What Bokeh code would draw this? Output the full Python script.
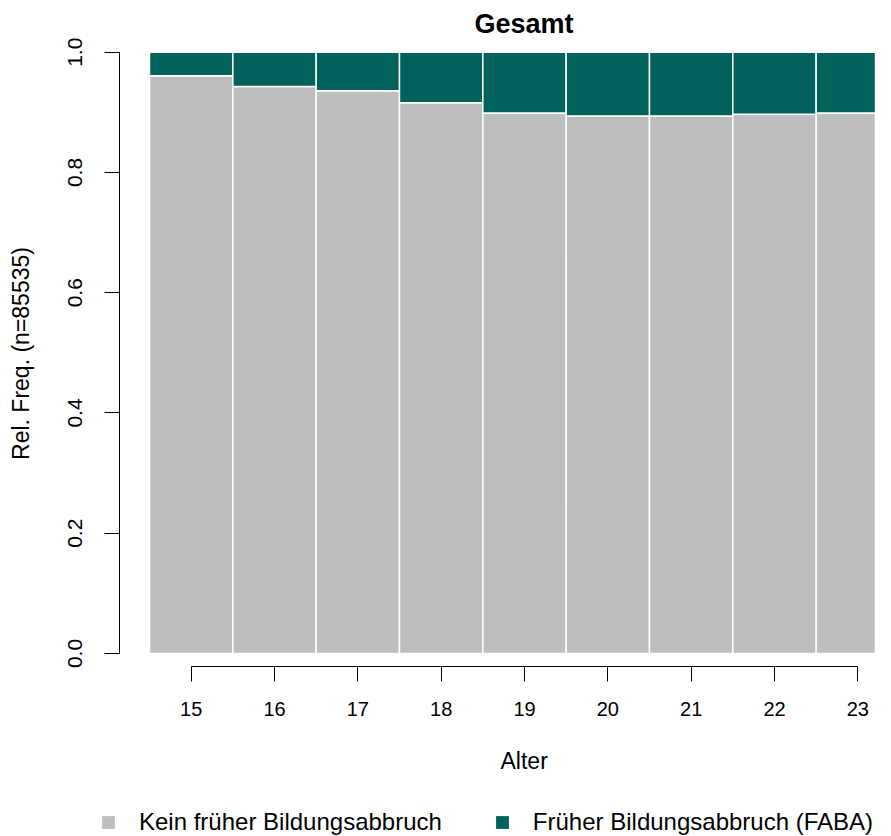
from bokeh.plotting import figure
from bokeh.layouts import column
from bokeh.models import (ColumnDataSource, Range1d, FixedTicker, NumeralTickFormatter,
                          Legend, LegendItem, Title)
from bokeh.embed import file_html
from bokeh.resources import INLINE

# ---- data ----
ages = [15, 16, 17, 18, 19, 20, 21, 22, 23]
kein_share = [0.961, 0.943, 0.936, 0.916, 0.899, 0.894, 0.894, 0.897, 0.899]
faba_share = [round(1 - v, 3) for v in kein_share]
series_names = ["Kein früher Bildungsabbruch", "Früher Bildungsabbruch (FABA)"]
series_colors = ["#BEBEBE", "#00625A"]
y_ticks = [0.0, 0.2, 0.4, 0.6, 0.8, 1.0]

FONT = "Liberation Sans"

src = ColumnDataSource(dict(age=ages, kein=kein_share, faba=faba_share))

p = figure(frame_width=756, frame_height=626, output_backend="svg", toolbar_location=None,
           x_range=Range1d(14.14, 23.212), y_range=Range1d(-0.0216, 1.0195),
           min_border_left=119, min_border_right=0, min_border_top=40, min_border_bottom=142)
p.outline_line_color = None
p.grid.visible = False
p.background_fill_color = "white"
p.border_fill_color = "white"

rs = p.vbar_stack(["kein", "faba"], x="age", width=1.0, source=src,
                  color=series_colors, line_color="white", line_width=1.5)

# title (left aligned with an offset so that it is centred over the bar region)
p.title.text = "Gesamt"
p.title.align = "left"
p.title.offset = 355
p.title.text_font = FONT
p.title.text_font_size = "27px"
p.title.text_font_style = "bold"
p.title.text_color = "black"
p.title.standoff = 4

# x axis
xa = p.xaxis[0]
xa.ticker = FixedTicker(ticks=ages)
xa.formatter = NumeralTickFormatter(format="0")
xa.bounds = (ages[0], ages[-1])
xa.major_tick_out = 15
xa.major_tick_in = 0
xa.minor_tick_line_color = None
xa.axis_line_color = "black"
xa.major_tick_line_color = "black"
xa.major_label_text_font = FONT
xa.major_label_text_font_size = "20px"
xa.major_label_text_color = "black"
xa.major_label_standoff = 20

# y axis
ya = p.yaxis[0]
ya.ticker = FixedTicker(ticks=y_ticks)
ya.formatter = NumeralTickFormatter(format="0.0")
ya.bounds = (0, 1)
ya.major_tick_out = 15
ya.major_tick_in = 0
ya.minor_tick_line_color = None
ya.axis_line_color = "black"
ya.major_tick_line_color = "black"
ya.major_label_orientation = "vertical"
ya.major_label_text_font = FONT
ya.major_label_text_font_size = "21px"
ya.major_label_text_color = "black"
ya.major_label_standoff = 22
ya.axis_label = "Rel. Freq. (n=85535)"
ya.axis_label_text_font = FONT
ya.axis_label_text_font_size = "23px"
ya.axis_label_text_font_style = "normal"
ya.axis_label_text_color = "black"
ya.axis_label_standoff = 32

# x axis label as a title below (centred over the bar region)
xlab = Title(text="Alter", align="left", offset=381, text_font=FONT, text_color="black",
             text_font_size="23px", text_font_style="normal", standoff=54)
p.add_layout(xlab, "below")

# legend in its own strip below the plot (bars drawn outside its range, only swatches show)
p2 = figure(width=875, height=28, output_backend="svg", toolbar_location=None,
            x_range=Range1d(0, 1), y_range=Range1d(0, 1),
            min_border_left=0, min_border_right=0, min_border_top=0, min_border_bottom=0)
p2.frame_align = False
p2.axis.visible = False
p2.grid.visible = False
p2.outline_line_color = None
p2.border_fill_color = "white"
lr = [p2.vbar(x="age", top=col, width=1, source=src, color=c, line_color=None)
      for col, c in zip(["kein", "faba"], series_colors)]
legend = Legend(items=[LegendItem(label=series_names[0], renderers=[lr[0]]),
                       LegendItem(label=series_names[1], renderers=[lr[1]])],
                orientation="horizontal", location=(100, 0),
                glyph_width=16, glyph_height=16, label_standoff=23, spacing=52,
                padding=0, margin=0, border_line_color=None, background_fill_alpha=0,
                label_text_font=FONT, label_text_font_size="24px", label_text_color="black")
p2.add_layout(legend, "center")

layout = column(p, p2, spacing=0)
open("out.html", "w").write(file_html(layout, INLINE))
